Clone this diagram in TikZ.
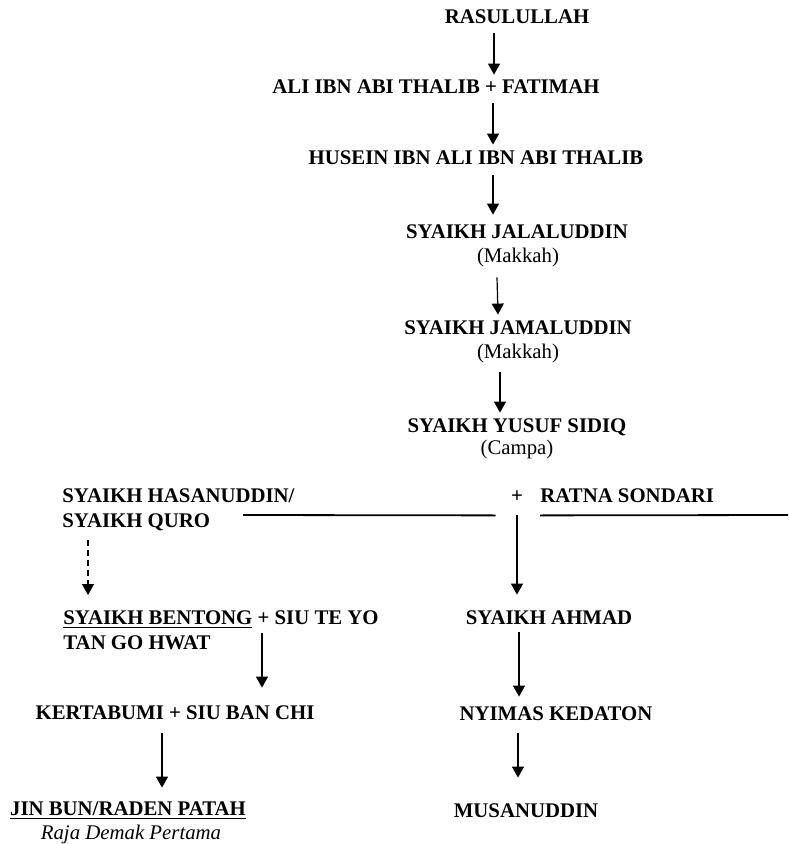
\documentclass[tikz,border=0pt]{standalone}
\usepackage{fontspec}
\setmainfont{Liberation Serif}
\usetikzlibrary{arrows.meta, positioning}

\begin{document}
\begin{tikzpicture}[
        x=0.5pt, y=-0.5pt,
        person/.style={inner sep=0pt, text height=7pt, text depth=0pt, font=\bfseries\fontsize{10.4}{12.5}\selectfont},
        place/.style={inner sep=0pt, text height=7pt, text depth=2pt, font=\fontsize{10.4}{12.5}\selectfont},
        couple/.style={inner sep=0pt, align=left, anchor=north west, font=\bfseries\fontsize{10.4}{12.5}\selectfont},
        arrow/.style={-{Triangle[length=5.5pt, width=6pt]}, line width=0.6pt},
        dasharrow/.style={arrow, dash pattern=on 3pt off 2pt},
        tie/.style={line width=0.9pt}
    ]
    \useasboundingbox (0,0) rectangle (788,844);

    % Main line from Rasulullah
    \node[person] (rasul) at (517,17) {RASULULLAH};
    \node[person] (ali) at (436,87) {ALI IBN ABI THALIB + FATIMAH};
    \node[person] (husein) at (476,158) {HUSEIN IBN ALI IBN ABI THALIB};
    \node[person] (jalal) at (517,232) {SYAIKH JALALUDDIN};
    \node[place] (jalalloc) at (518,258) {(Makkah)};
    \node[person] (jamal) at (518,327) {SYAIKH JAMALUDDIN};
    \node[place] (jamalloc) at (518,353) {(Makkah)};
    \node[person] (yusuf) at (517,425) {SYAIKH YUSUF SIDIQ};
    \node[place] (yusufloc) at (517,449) {(Campa)};

    % Marriage row
    \node[couple] (hasan) at (62,488) {SYAIKH HASANUDDIN/\\SYAIKH QURO};
    \node[person] (plus) at (517,495) {+};
    \node[person, anchor=west] (ratna) at (540,495) {RATNA SONDARI};
    \coordinate (rightend) at (788,515);

    % Left branch
    \node[couple] (bentong) at (63,610) {\underline{SYAIKH BENTONG} + SIU TE YO\\TAN GO HWAT};
    \node[person] (kerta) at (175,712) {KERTABUMI + SIU BAN CHI};
    \node[person] (jinbun) at (128,808) {\underline{JIN BUN/RADEN PATAH}};
    \node[place, font=\itshape\fontsize{10.4}{12.5}\selectfont] (raja) at (131,834) {Raja Demak Pertama};

    % Right branch
    \node[person] (ahmad) at (549,617) {SYAIKH AHMAD};
    \node[person] (nyimas) at (556,713) {NYIMAS KEDATON};
    \node[person] (musa) at (526,810) {MUSANUDDIN};

    % Arrows
    \draw[arrow] ([shift={(-23,9)}]rasul.south) -- ([shift={(58,-5)}]ali.north);
    \draw[arrow] ([shift={(57,9)}]ali.south) -- ([shift={(17,-6)}]husein.north);
    \draw[arrow] ([shift={(17,10)}]husein.south) -- ([shift={(-24,-10)}]jalal.north);
    \draw[arrow] ([shift={(-21,10)}]jalalloc.south) -- ([shift={(-20,-5)}]jamal.north);
    \draw[arrow] ([shift={(-18,10)}]jamalloc.south) -- ([shift={(-17,-5)}]yusuf.north);

    \draw[tie] ([shift={(181,27)}]hasan.north west) -- ([shift={(-15,13)}]plus.south west);
    \draw[tie] ([shift={(0,13)}]ratna.south west) -- (rightend);
    \draw[arrow] ([shift={(0,13)}]plus.south) -- ([shift={(-32,-15)}]ahmad.north);
    \draw[dasharrow] ([shift={(26,9)}]hasan.south west) -- ([shift={(25,-15)}]bentong.north west);

    \draw[arrow] ([shift={(199,23)}]bentong.north west) -- ([shift={(87,-17)}]kerta.north);
    \draw[arrow] ([shift={(-13,14)}]kerta.south) -- ([shift={(34,-13)}]jinbun.north);
    \draw[arrow] ([shift={(-30,8)}]ahmad.south) -- ([shift={(-37,-9)}]nyimas.north);
    \draw[arrow] ([shift={(-38,13)}]nyimas.south) -- ([shift={(-8,-25)}]musa.north);

\end{tikzpicture}
\end{document}
